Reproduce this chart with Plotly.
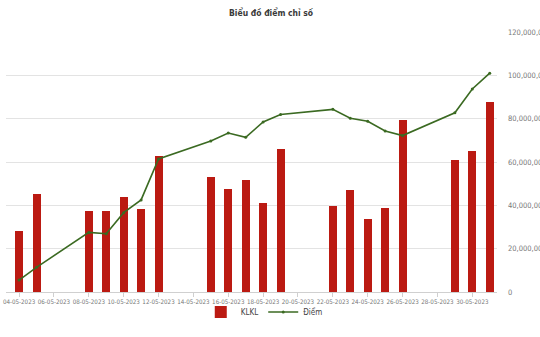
import plotly.graph_objects as go

dates = ["2023-05-04", "2023-05-05", "2023-05-08", "2023-05-09", "2023-05-10", "2023-05-11",
         "2023-05-12", "2023-05-15", "2023-05-16", "2023-05-17", "2023-05-18", "2023-05-19",
         "2023-05-22", "2023-05-23", "2023-05-24", "2023-05-25", "2023-05-26", "2023-05-29",
         "2023-05-30", "2023-05-31"]
klkl = [28000000, 45200000, 37200000, 37200000, 43900000, 38400000, 62800000, 53100000,
        47600000, 51500000, 41200000, 65800000, 39600000, 47300000, 33500000, 38700000,
        79300000, 61100000, 65100000, 87700000]
diem = [5500000, 11400000, 27500000, 26900000, 36600000, 42500000, 61400000, 69700000,
        73400000, 71400000, 78500000, 81900000, 84300000, 80200000, 78800000, 74300000,
        72200000, 82700000, 93700000, 101000000]
y_ticks = [0, 20000000, 40000000, 60000000, 80000000, 100000000, 120000000]
y_labels = ["0", "20,000,000", "40,000,000", "60,000,000", "80,000,000", "100,000,000", "120,000,000"]

FONT = "DejaVu Sans Condensed, Liberation Sans Narrow, sans-serif"

fig = go.Figure()
fig.add_trace(go.Bar(x=dates, y=klkl, name="KLKL", marker_color="#bb1a12",
                     marker_line_width=0, width=0.46 * 86400000))
fig.add_trace(go.Scatter(x=dates, y=diem, name="Điểm", mode="lines+markers",
                         line=dict(color="#3b6a22", width=1.6),
                         marker=dict(size=3, color="#3b6a22")))

fig.update_layout(
    width=540, height=337,
    margin=dict(l=6, r=43, t=32, b=45),
    paper_bgcolor="white", plot_bgcolor="white",
    title=dict(text="<b>Biểu đồ điểm chỉ số</b>", x=0.502, xanchor="center",
               y=0.961, yanchor="middle",
               font=dict(family=FONT, size=8.5, color="#3a3a3a")),
    font=dict(family=FONT, size=7, color="#666666"),
    showlegend=True,
    legend=dict(orientation="h", x=0.526, xanchor="center", y=-0.077, yanchor="middle",
                bgcolor="rgba(0,0,0,0)",
                font=dict(family=FONT, size=8, color="#444444"),
                itemwidth=30, tracegroupgap=0),
    bargap=0,
)
fig.update_xaxes(
    type="date",
    range=["2023-05-03 06:00", "2023-05-31 10:00"],
    tickvals=["2023-05-%02d" % d for d in range(4, 31, 2)],
    tickformat="%d-%m-%Y", tickangle=0, automargin=False,
    tickfont=dict(family=FONT, size=6.2, color="#777777"),
    ticks="outside", ticklen=4, tickcolor="#d0d0d0",
    showline=True, linecolor="#d0d0d0", linewidth=1,
    showgrid=False, zeroline=False, fixedrange=True,
)
fig.update_yaxes(
    side="right", range=[0, 120000000], automargin=False,
    tickvals=y_ticks, ticktext=y_labels,
    tickfont=dict(family=FONT, size=7.5, color="#777777"),
    showgrid=True, gridcolor="#e3e3e3", gridwidth=1,
    zeroline=False, showline=False, ticklabelstandoff=10,
)

fig.write_html("out.html")
